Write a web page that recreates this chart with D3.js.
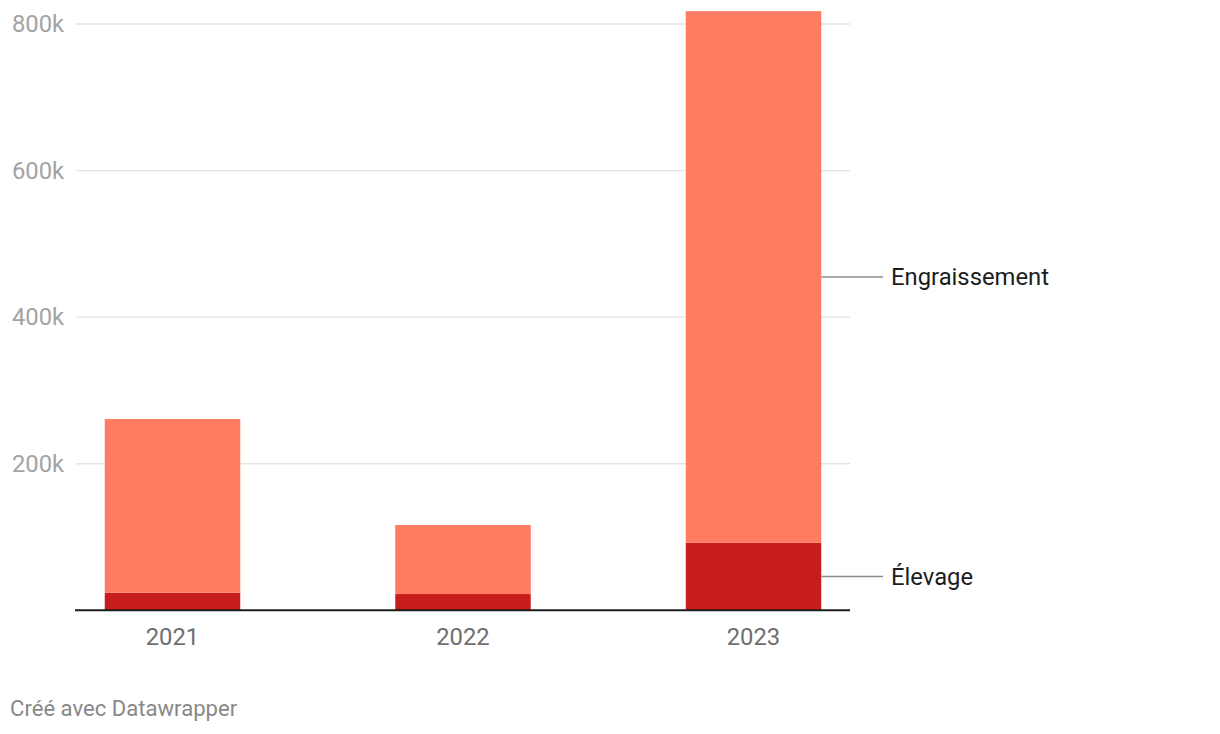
<!DOCTYPE html>
<html>
<head>
<meta charset="utf-8">
<script src="https://cdn.jsdelivr.net/npm/d3@7"></script>
<style>
  html, body { margin: 0; padding: 0; background: #fff; }
  svg { display: block; font-family: Roboto, "Noto Sans", sans-serif; }
</style>
</head>
<body>
<svg id="chart" width="1220" height="734"></svg>
<script>
const years = ["2021", "2022", "2023"];
const elevage = [24000, 22200, 92200];
const engraissement = [236900, 94200, 725300];
const seriesNames = ["Élevage", "Engraissement"];
const seriesColors = ["#c71e1d", "#ff7b61"];
const yTicks = [200000, 400000, 600000, 800000];
const yTickLabels = ["200k", "400k", "600k", "800k"];
const footer = "Créé avec Datawrapper";

(function () {
const svg = d3.select("#chart");
const mLeft = 76, mRight = 850, mTop = 24, mBottom = 610.3;

const x = d3.scaleBand().domain(years).range([mLeft, mRight]).paddingInner(0.5336).paddingOuter(0.099);
const y = d3.scaleLinear().domain([0, 800000]).range([mBottom, mTop]);

// gridlines
svg.append("g").selectAll("line").data(yTicks).join("line")
  .attr("x1", mLeft).attr("x2", mRight)
  .attr("y1", d => y(d)).attr("y2", d => y(d))
  .attr("stroke", "#e3e3e3").attr("stroke-width", 1.3);

// y labels
svg.append("g").selectAll("text").data(yTicks).join("text")
  .attr("x", 12).attr("y", d => y(d))
  .attr("dy", "0.35em")
  .attr("fill", "#a3a3a3").attr("font-size", 23.8)
  .text((d, i) => yTickLabels[i]);

// stacked data
const rows = years.map((yr, i) => ({ year: yr, "Élevage": elevage[i], "Engraissement": engraissement[i] }));
const stack = d3.stack().keys(seriesNames)(rows);

svg.append("g").selectAll("g").data(stack).join("g")
  .attr("fill", (d, i) => seriesColors[i])
  .selectAll("rect").data(d => d).join("rect")
  .attr("x", d => x(d.data.year))
  .attr("width", x.bandwidth())
  .attr("y", d => y(d[1]))
  .attr("height", d => y(d[0]) - y(d[1]));

// baseline
svg.append("line")
  .attr("x1", mLeft - 1).attr("x2", mRight)
  .attr("y1", y(0)).attr("y2", y(0))
  .attr("stroke", "#1d1d1d").attr("stroke-width", 2);

// x labels
svg.append("g").selectAll("text").data(years).join("text")
  .attr("x", d => x(d) + x.bandwidth() / 2)
  .attr("y", 637).attr("dy", "0.35em")
  .attr("text-anchor", "middle")
  .attr("fill", "#6f6f6f").attr("font-size", 23.8)
  .text(d => d);

// direct labels on last bar
const lastIdx = years.length - 1;
const lastX = x(years[lastIdx]) + x.bandwidth();
stack.forEach((s, i) => {
  const d = s[lastIdx];
  const my = (y(d[0]) + y(d[1])) / 2;
  svg.append("line")
    .attr("x1", lastX).attr("x2", 883)
    .attr("y1", my).attr("y2", my)
    .attr("stroke", "#8c8c8c").attr("stroke-width", 1.5);
  svg.append("text")
    .attr("x", 891).attr("y", my).attr("dy", "0.35em")
    .attr("fill", "#1d1d1d").attr("font-size", 23.8)
    .text(seriesNames[i]);
});

// footer
svg.append("text")
  .attr("x", 10).attr("y", 708).attr("dy", "0.35em")
  .attr("fill", "#888").attr("font-size", 22.1)
  .text(footer);
})();
</script>
</body>
</html>
